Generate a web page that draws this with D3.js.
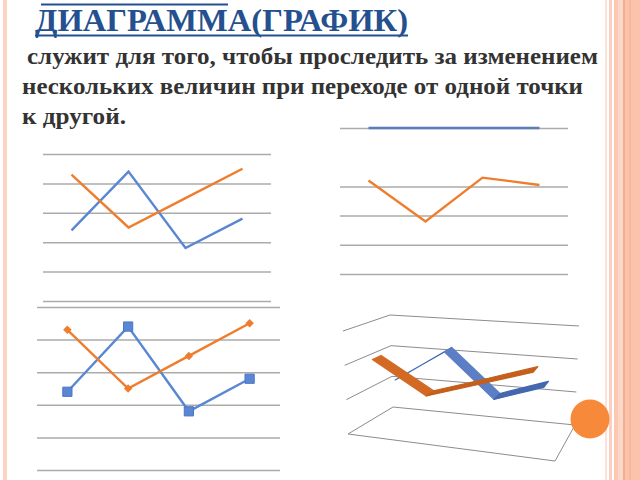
<!DOCTYPE html>
<html><head><meta charset="utf-8">
<script src="https://cdn.jsdelivr.net/npm/d3@7"></script>
<style>body{margin:0;background:#fff}svg{display:block}</style>
</head><body>
<script>
// ---- data ----
const categories = ["Категория 1", "Категория 2", "Категория 3", "Категория 4"];
const seriesBlue = [2.4, 4.4, 1.8, 2.8];
const seriesOrange = [4.3, 2.5, 3.5, 4.5];
const gridTicks = [0, 1, 2, 3, 4, 5];
const chart2Orange = [3.2, 1.8, 3.3, 3.05];
const chart2Blue = [5, 5, 5, 5];
const chart2Grid = [0, 1, 2, 3, 5];
const grid3D = [0, 2, 4, 6];
const titleTop = "ЛИНЕЙНАЯ";
const title = "ДИАГРАММА(ГРАФИК)";
const bodyLines = [
  "служит для того, чтобы проследить за изменением",
  "нескольких величин при переходе от одной точки",
  "к другой."
];

const BLUE = "#5a87d4", ORANGE = "#ef7d2e", GRID = "#ababab";
const svg = d3.select("body").append("svg").attr("width", 640).attr("height", 480);
svg.append("rect").attr("width", 640).attr("height", 480).attr("fill", "#fff");

// ---- slide borders ----
svg.append("rect").attr("x", 3).attr("y", 0).attr("width", 4).attr("height", 480).attr("fill", "#fdd3c4");
const stripes = [[605,2,"#fde2d7"],[609,3,"#fbd0bf"],[614,4,"#fbc8b3"],[618,5,"#fdd8c9"],[623,2,"#f6ae90"],[625,15,"#fbc3ac"],[629,2,"#f8b89d"]];
stripes.forEach(s => svg.append("rect").attr("x", s[0]).attr("y", 0).attr("width", s[1]).attr("height", 480).attr("fill", s[2]));

// ---- texts ----
const serif = "'Liberation Serif','Times New Roman',serif";
function txt(str, x, y, size, len, fill) {
  return svg.append("text").attr("x", x).attr("y", y).attr("font-family", serif)
    .attr("font-weight", "bold").attr("font-size", size).attr("fill", fill)
    .attr("textLength", len).attr("lengthAdjust", "spacingAndGlyphs").text(str);
}
const TCOL = "#25508f";
txt(titleTop, 41, 0, 28, 187, TCOL);
svg.append("line").attr("x1", 41).attr("x2", 228).attr("y1", 4.5).attr("y2", 4.5).attr("stroke", TCOL).attr("stroke-width", 2);
txt(title, 35, 31, 31, 373, TCOL);
svg.append("line").attr("x1", 35).attr("x2", 408).attr("y1", 35.5).attr("y2", 35.5).attr("stroke", TCOL).attr("stroke-width", 2);
const bodyPos = [[27, 64, 571], [22, 94, 561], [22, 124, 104]];
bodyLines.forEach((l, i) => txt(l, bodyPos[i][0], bodyPos[i][1], 24, bodyPos[i][2], "#333"));

// ---- 2D line charts ----
function lineChart(box, grid, series) {
  const g = svg.append("g");
  const x = d3.scaleBand().domain(categories).range([box.x0, box.x1]);
  const y = d3.scaleLinear().domain([0, 5]).range([box.yb, box.yt]);
  const axis = d3.axisLeft(y).tickValues(grid).tickSize(-(box.x1 - box.x0)).tickFormat("");
  const ag = g.append("g").attr("transform", `translate(${box.x0},0)`).call(axis);
  ag.select(".domain").remove();
  ag.selectAll(".tick line").attr("stroke", GRID).attr("stroke-width", 1.5);
  const cx = c => x(c) + x.bandwidth() / 2;
  series.forEach(s => {
    const line = d3.line().x((d, i) => cx(categories[i])).y(d => y(d));
    g.append("path").datum(s.values).attr("d", line).attr("fill", "none")
      .attr("stroke", s.color).attr("stroke-width", 2.4).attr("stroke-linejoin", "miter");
    if (s.marker) {
      g.selectAll(null).data(s.values).enter().append("path")
        .attr("transform", (d, i) => `translate(${cx(categories[i])},${y(d)}) rotate(${s.rot || 0})`)
        .attr("d", d3.symbol().type(d3.symbolSquare).size(s.msize))
        .attr("fill", s.color).attr("stroke", s.stroke || "none").attr("stroke-width", 1);
    }
  });
}
lineChart({x0: 43, x1: 271, yb: 301, yt: 154}, gridTicks,
  [{values: seriesBlue, color: BLUE}, {values: seriesOrange, color: ORANGE}]);
lineChart({x0: 340, x1: 568, yb: 274, yt: 128}, chart2Grid,
  [{values: chart2Blue, color: "#5b7bbd"}, {values: chart2Orange, color: ORANGE}]);
lineChart({x0: 37, x1: 280, yb: 470, yt: 307}, gridTicks,
  [{values: seriesBlue, color: BLUE, marker: true, msize: 85, stroke: "#4a76c4"},
   {values: seriesOrange, color: ORANGE, marker: true, msize: 36, rot: 45}]);

// ---- 3D line chart ----
const floorC = {FL: [348, 434], FR: [555, 461], BL: [393, 407], BR: [575, 425]};
const topC = {FL: [343, 331], FR: [560, 352], BL: [390, 315], BR: [579, 326]};
const hScale = d3.scaleLinear().domain([0, 6]).range([0, 1]);
const lerp = (a, b, t) => [a[0] + (b[0] - a[0]) * t, a[1] + (b[1] - a[1]) * t];
const bil = (c, u, v) => lerp(lerp(c.FL, c.FR, u), lerp(c.BL, c.BR, u), v);
const proj = (u, v, h) => lerp(bil(floorC, u, v), bil(topC, u, v), hScale(h));
const g4 = svg.append("g");
const lineGen = d3.line();
grid3D.forEach(h => {
  const pts = [proj(0, 0, h), proj(0, 1, h), proj(1, 1, h)];
  if (h === 0) pts.push(proj(1, 0, h), proj(0, 0, h));
  g4.append("path").attr("d", lineGen(pts)).attr("fill", "none").attr("stroke", "#8c8c8c").attr("stroke-width", 1);
});
const uScale = d3.scalePoint().domain(categories).range([0.1, 0.865]);
const half = 0.1;
function ribbon(values, depth, colDown, colUp) {
  for (let i = 0; i < values.length - 1; i++) {
    const u1 = uScale(categories[i]), u2 = uScale(categories[i + 1]);
    const pts = [proj(u1, depth - half, values[i]), proj(u2, depth - half, values[i + 1]),
                 proj(u2, depth + half, values[i + 1]), proj(u1, depth + half, values[i])];
    const c = values[i + 1] < values[i] ? colDown : colUp;
    g4.append("path").attr("d", lineGen(pts) + "Z").attr("fill", c).attr("stroke", c)
      .attr("stroke-width", 1.2).attr("stroke-linejoin", "round");
  }
}
ribbon(seriesBlue, 0.75, "#5b7ec4", "#4467ad");
ribbon(seriesOrange, 0.25, "#d36a24", "#c45f1c");

svg.append("circle").attr("cx", 590).attr("cy", 419).attr("r", 19.5).attr("fill", "#f78a3a");
</script>
</body></html>
